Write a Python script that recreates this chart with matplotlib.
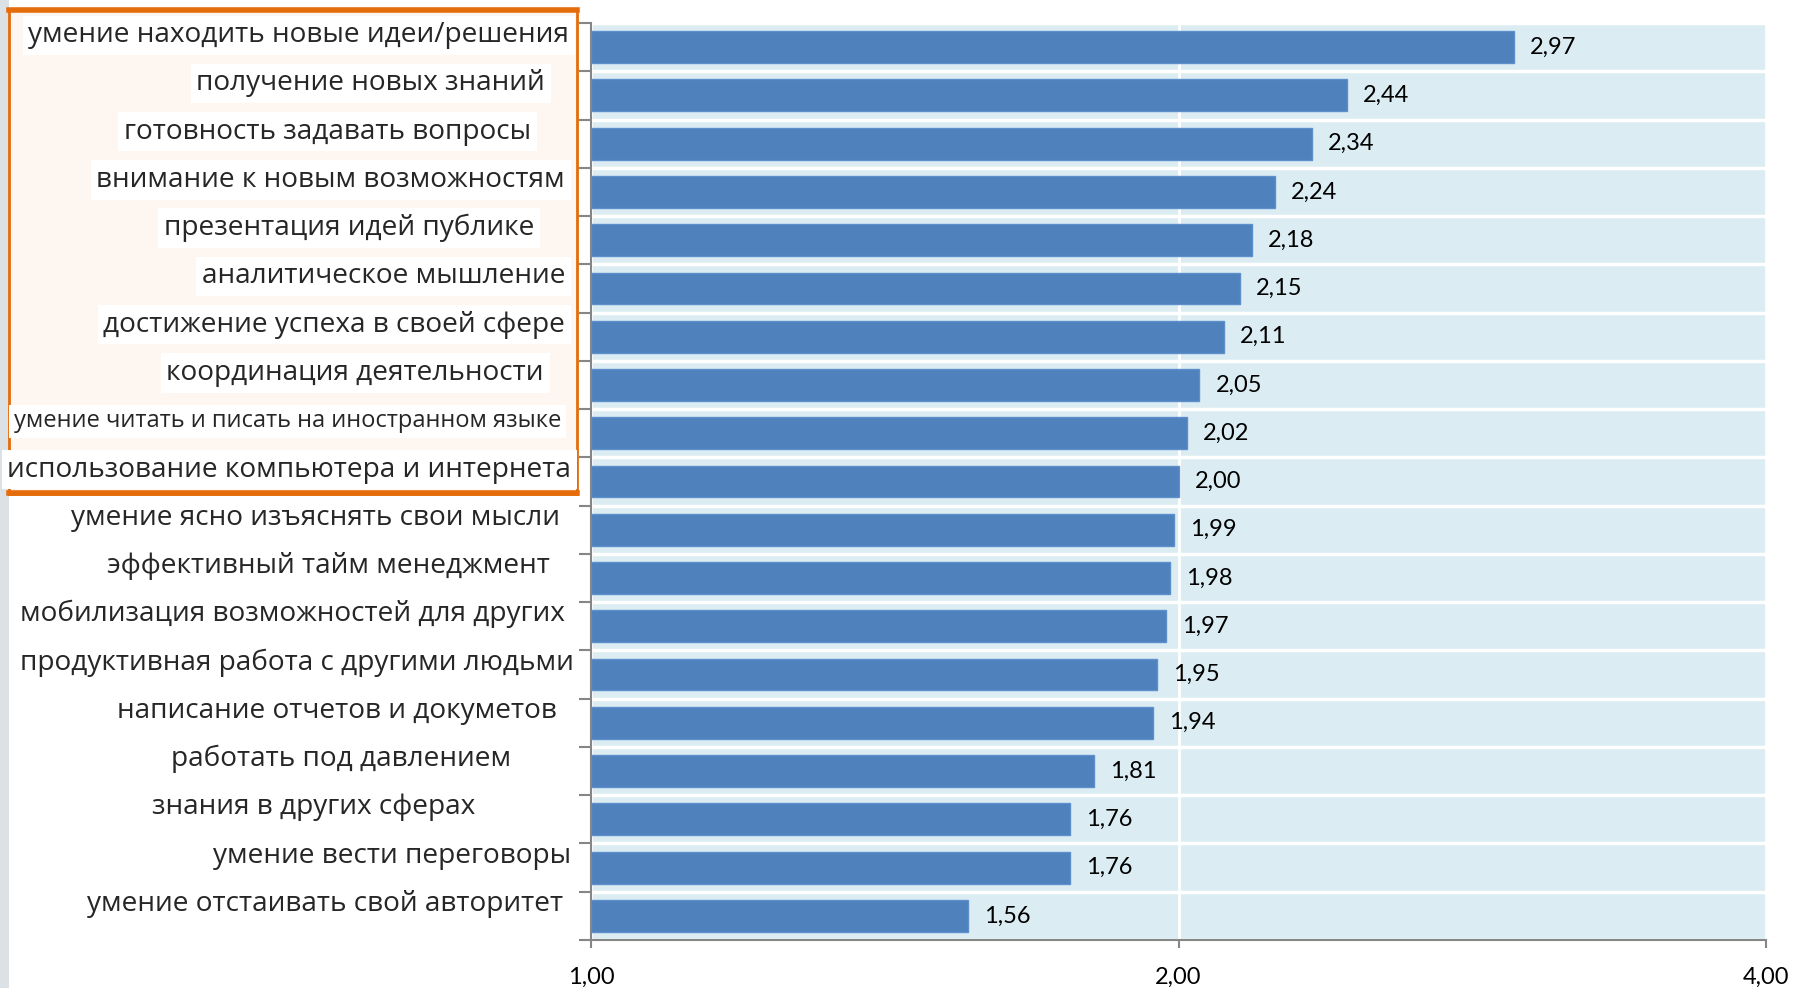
import numpy as np
import matplotlib.pyplot as plt
from matplotlib.patches import Rectangle
from matplotlib.lines import Line2D
from matplotlib.ticker import FixedLocator, FixedFormatter, NullLocator
from matplotlib.transforms import ScaledTranslation

plt.rcParams["font.family"] = ["Open Sans", "DejaVu Sans"]

# данные
skills = [
    "умение находить новые идеи/решения",
    "получение новых знаний",
    "готовность задавать вопросы",
    "внимание к новым возможностям",
    "презентация идей публике",
    "аналитическое мышление",
    "достижение успеха в своей сфере",
    "координация деятельности",
    "умение читать и писать на иностранном языке",
    "использование компьютера и интернета",
    "умение ясно изъяснять свои мысли",
    "эффективный тайм менеджмент",
    "мобилизация возможностей для других",
    "продуктивная работа с другими людьми",
    "написание отчетов и докуметов",
    "работать под давлением",
    "знания в других сферах",
    "умение вести переговоры",
    "умение отстаивать свой авторитет",
]
scores = [2.97, 2.44, 2.34, 2.24, 2.18, 2.15, 2.11, 2.05, 2.02, 2.00,
          1.99, 1.98, 1.97, 1.95, 1.94, 1.81, 1.76, 1.76, 1.56]
x_ticks = [1, 2, 4]
x_tick_labels = ["1,00", "2,00", "4,00"]

# сдвиг подписей от оси (пиксели), как на слайде
label_gap = [-22, -46, -60, -26, -57, -26, -26, -47, -30, -20,
             -31, -41, -26, -17, -34, -80, -116, -20, -28]
highlighted = 10

W, H, DPI = 1793, 988, 100
fig = plt.figure(figsize=(W / DPI, H / DPI), dpi=DPI)
ax = fig.add_axes([591 / W, 1 - 940 / H, (1766 - 591) / W, (940 - 23) / H])

# серая полоса слева и оранжевая рамка
fig.patches.append(Rectangle((0, 0), 9 / W, 1, transform=fig.transFigure,
                             facecolor="#DCE1E5", edgecolor="none", zorder=-3))
fig.patches.append(Rectangle((9 / W, 1 - 494 / H), (577 - 9) / W, (494 - 9) / H,
                             transform=fig.transFigure, facecolor="#FEF7F1",
                             edgecolor="#E46C0A", linewidth=2, zorder=-2))
for yy in (10, 493):
    fig.lines.append(Line2D([9 / W, 577 / W], [1 - yy / H, 1 - yy / H],
                            transform=fig.transFigure, color="#E46C0A",
                            linewidth=4, zorder=-1))

n = len(skills)
y = np.arange(n)
ax.set_facecolor("#DBEDF3")
ax.set_xscale("log", base=2)
ax.barh(y, [s - 1 for s in scores], left=1, height=0.66,
        color="#4F81BD", edgecolor="#5D8FCB", linewidth=1, zorder=3)
ax.set_xlim(1, 4)
ax.set_ylim(n - 0.5, -0.5)

ax.xaxis.set_major_locator(FixedLocator(x_ticks))
ax.xaxis.set_major_formatter(FixedFormatter(x_tick_labels))
ax.xaxis.set_minor_locator(NullLocator())
ax.yaxis.set_major_locator(FixedLocator(np.arange(n + 1) - 0.5))
ax.yaxis.set_major_formatter(FixedFormatter([""] * (n + 1)))
ax.yaxis.set_minor_locator(NullLocator())

ax.grid(axis="y", which="major", color="white", linewidth=2.5)
ax.grid(axis="x", which="major", color="white", linewidth=2)
ax.set_axisbelow(True)

for side in ("top", "right"):
    ax.spines[side].set_visible(False)
for side in ("left", "bottom"):
    ax.spines[side].set_color("#868686")
    ax.spines[side].set_linewidth(1.5)
ax.tick_params(axis="y", direction="out", length=9, width=1.5, color="#868686")
ax.tick_params(axis="x", direction="out", length=6, width=1.5, color="#868686",
               pad=13, labelsize=17)
for t in ax.get_xticklabels():
    t.set_family(["Lato", "DejaVu Sans"])

# значения у столбиков
for yi, s in zip(y, scores):
    ax.text(s, yi, f"{s:.2f}".replace(".", ","), va="center", ha="left",
            fontsize=17, family=["Lato", "DejaVu Sans"], color="black",
            transform=ax.transData + ScaledTranslation(16 / DPI, 0, fig.dpi_scale_trans))

# подписи категорий
for i, (name, gap) in enumerate(zip(skills, label_gap)):
    tr = ax.get_yaxis_transform() + ScaledTranslation(gap / DPI, 12 / DPI, fig.dpi_scale_trans)
    kw = {}
    if i < highlighted:
        kw["bbox"] = dict(boxstyle="square,pad=0.2", facecolor="white", edgecolor="none")
    ax.text(0, i, name, ha="right", va="center", transform=tr, color="#262626",
            fontsize=17 if i == 8 else 20.2, clip_on=False, **kw)

fig.savefig("out.png", dpi=DPI)
